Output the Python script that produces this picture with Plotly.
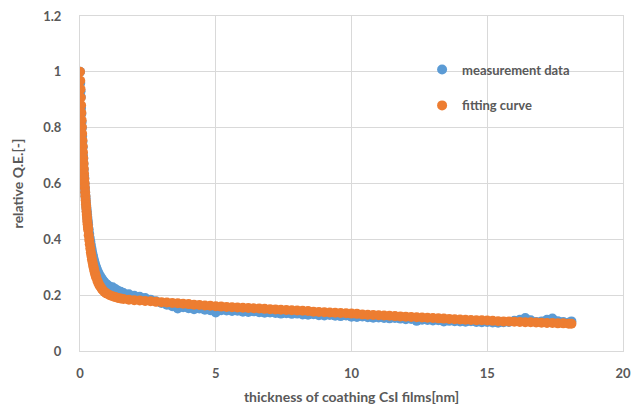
import plotly.graph_objects as go

# ---- data ----
fit_x = [0.00, 0.01, 0.02, 0.03, 0.04, 0.05, 0.06, 0.07, 0.08, 0.09, 0.10, 0.11, 0.12, 0.13,
         0.14, 0.15, 0.16, 0.17, 0.18, 0.19, 0.20, 0.21, 0.22, 0.23, 0.24, 0.25, 0.26, 0.27,
         0.28, 0.29, 0.30,
         0.32, 0.34, 0.36, 0.38, 0.40, 0.42, 0.44, 0.46, 0.48, 0.50, 0.52, 0.54, 0.56, 0.58, 0.60,
         0.64, 0.68, 0.72, 0.76, 0.80, 0.85, 0.90, 0.95, 1.00,
         1.1, 1.2, 1.3, 1.4, 1.5,
         1.6, 1.8, 2.0, 2.2, 2.4, 2.6, 2.8, 3.0, 3.2, 3.4, 3.6, 3.8, 4.0, 4.2, 4.4, 4.6, 4.8,
         5.0, 5.2, 5.4, 5.6, 5.8, 6.0, 6.2, 6.4, 6.6, 6.8, 7.0, 7.2, 7.4, 7.6, 7.8, 8.0, 8.2,
         8.4, 8.6, 8.8, 9.0, 9.2, 9.4, 9.6, 9.8, 10.0, 10.2, 10.4, 10.6, 10.8, 11.0, 11.2, 11.4,
         11.6, 11.8, 12.0, 12.2, 12.4, 12.6, 12.8, 13.0, 13.2, 13.4, 13.6, 13.8, 14.0, 14.2,
         14.4, 14.6, 14.8, 15.0, 15.2, 15.4, 15.6, 15.8, 16.0, 16.2, 16.4, 16.6, 16.8, 17.0,
         17.2, 17.4, 17.6, 17.8, 18.0, 18.1]
fit_y = [1.000, 0.968, 0.938, 0.908, 0.880, 0.853, 0.827, 0.802, 0.778, 0.755, 0.733, 0.712,
         0.691, 0.672, 0.653, 0.635, 0.617, 0.601, 0.585, 0.569, 0.554, 0.540, 0.526, 0.513,
         0.500, 0.488, 0.476, 0.465, 0.454, 0.444, 0.434,
         0.415, 0.398, 0.382, 0.367, 0.353, 0.341, 0.329, 0.319, 0.309, 0.300, 0.291, 0.283,
         0.276, 0.269, 0.263,
         0.252, 0.243, 0.235, 0.229, 0.223, 0.217, 0.212, 0.208, 0.205,
         0.200, 0.196, 0.193, 0.190, 0.188,
         0.186, 0.184, 0.182, 0.181, 0.179, 0.178, 0.176, 0.175, 0.174, 0.172, 0.171, 0.169,
         0.168, 0.166, 0.165, 0.163, 0.162, 0.160, 0.159, 0.158, 0.157, 0.156, 0.155, 0.154,
         0.153, 0.152, 0.151, 0.150, 0.149, 0.148, 0.147, 0.146, 0.145, 0.144, 0.143, 0.141,
         0.140, 0.139, 0.138, 0.137, 0.136, 0.135, 0.134, 0.133, 0.131, 0.130, 0.129, 0.128,
         0.127, 0.126, 0.125, 0.124, 0.123, 0.122, 0.121, 0.120, 0.119, 0.118, 0.117, 0.116,
         0.115, 0.114, 0.113, 0.112, 0.111, 0.110, 0.110, 0.109, 0.108, 0.107, 0.106, 0.106,
         0.105, 0.104, 0.103, 0.103, 0.102, 0.101, 0.100, 0.100, 0.099, 0.099, 0.098, 0.098]

meas_x = fit_x
meas_y = [1.00, 0.96, 0.93, 0.91, 0.87, 0.85, 0.82, 0.80, 0.77, 0.75, 0.73, 0.70, 0.69, 0.67,
          0.65, 0.63, 0.62, 0.60, 0.585, 0.57, 0.556, 0.545, 0.532, 0.52, 0.51, 0.50, 0.49,
          0.48, 0.47, 0.46, 0.452,
          0.436, 0.42, 0.405, 0.392, 0.38, 0.368, 0.357, 0.347, 0.338, 0.33, 0.322, 0.315,
          0.308, 0.302, 0.297,
          0.287, 0.279, 0.271, 0.265, 0.259, 0.252, 0.246, 0.241, 0.237,
          0.230, 0.228, 0.222, 0.216, 0.212,
          0.208, 0.203, 0.198, 0.194, 0.190, 0.184, 0.178, 0.172, 0.166, 0.160, 0.152, 0.157,
          0.153, 0.150, 0.152, 0.148, 0.146, 0.138, 0.146, 0.145, 0.143, 0.144, 0.141, 0.140,
          0.142, 0.139, 0.137, 0.138, 0.136, 0.134, 0.135, 0.133, 0.134, 0.131, 0.130, 0.132,
          0.128, 0.127, 0.129, 0.126, 0.125, 0.127, 0.123, 0.122, 0.124, 0.121, 0.119, 0.120,
          0.118, 0.117, 0.118, 0.116, 0.114, 0.115, 0.108, 0.112, 0.111, 0.109, 0.110, 0.106,
          0.108, 0.107, 0.106, 0.105, 0.107, 0.104, 0.103, 0.104, 0.102, 0.101, 0.103, 0.104,
          0.108, 0.112, 0.118, 0.110, 0.104, 0.106, 0.112, 0.116, 0.107, 0.104, 0.101, 0.106]

x_ticks = [0, 5, 10, 15, 20]
y_ticks = [0, 0.2, 0.4, 0.6, 0.8, 1.0, 1.2]

BLUE = "#5B9BD5"
ORANGE = "#ED7D31"
TEXT = "#595959"
GRID = "#D9D9D9"
FONT = "Lato"

fig = go.Figure()
fig.add_trace(go.Scatter(x=meas_x, y=meas_y, mode="markers", name="measurement data",
                         legendgroup="a",
                         marker=dict(color=BLUE, size=10, line=dict(width=0))))
fig.add_trace(go.Scatter(x=fit_x, y=fit_y, mode="markers", name="fitting curve",
                         legendgroup="b",
                         marker=dict(color=ORANGE, size=10, line=dict(width=0))))

fig.update_layout(
    width=643, height=411,
    # page body has an 8px default margin, margins compensate for it
    margin=dict(l=72, r=28, t=8, b=68),
    paper_bgcolor="white", plot_bgcolor="white",
    font=dict(family=FONT, color=TEXT, size=13, weight="bold"),
    showlegend=True,
    legend=dict(x=0.63, y=0.885, xanchor="left", yanchor="top",
                bgcolor="rgba(0,0,0,0)", itemwidth=30, tracegroupgap=16,
                font=dict(family=FONT, color=TEXT, size=13, weight="bold")),
    xaxis=dict(range=[0, 20], tickvals=x_ticks, showgrid=True, gridcolor=GRID, gridwidth=1,
               zeroline=False, showline=True, linecolor=GRID, mirror=True, automargin=False,
               ticks="", ticklabelstandoff=10, ticklabeloverflow="allow",
               tickfont=dict(family=FONT, color=TEXT, size=13, weight="bold"),
               title=dict(text="thickness of coathing CsI films[nm]", standoff=12,
                          font=dict(family=FONT, color=TEXT, size=14, weight="bold"))),
    yaxis=dict(range=[0, 1.2], tickvals=y_ticks, showgrid=True, gridcolor=GRID, gridwidth=1,
               zeroline=False, showline=True, linecolor=GRID, mirror=True, automargin=False,
               ticks="", ticklabelstandoff=15, ticklabeloverflow="allow",
               tickfont=dict(family=FONT, color=TEXT, size=13, weight="bold"),
               title=dict(text="relative Q.E.[-]", standoff=16,
                          font=dict(family=FONT, color=TEXT, size=14, weight="bold"))),
)

fig.write_html("out.html")
